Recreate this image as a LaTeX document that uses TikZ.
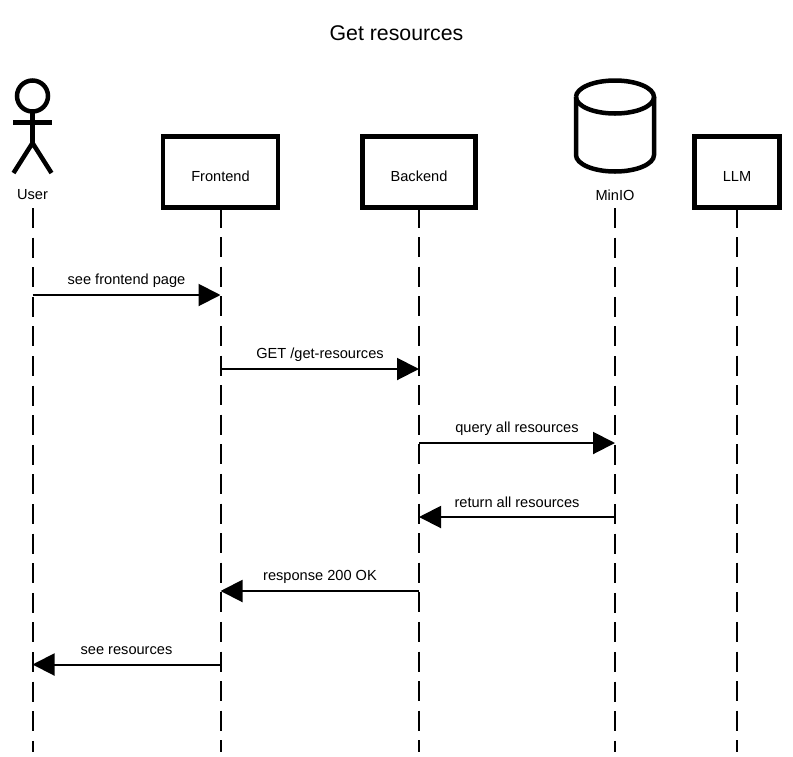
\documentclass[tikz,border=0pt]{standalone}
\usepackage{fontspec}
\setmainfont{Liberation Sans}
\usetikzlibrary{arrows.meta}
\tikzset{
  lifebox/.style={draw,line width=4.5pt,outer sep=0pt,minimum height=71pt},
  lifeline/.style={line width=2pt,dash pattern=on 20pt off 9.6pt},
  msg/.style={line width=2pt,-{Triangle[length=22pt,width=22pt]}},
  msglabel/.style={font=\fontsize{14.6}{16}\selectfont,inner sep=0pt},
  figure/.style={line width=4.5pt}
}
\begin{document}
\begin{tikzpicture}[x=1pt,y=-1pt]
\useasboundingbox (0,0) rectangle (793,756);
\node[font=\fontsize{21.3}{24}\selectfont] (title) at (396.5,33) {Get resources};
% actor
\draw[figure] (32.5,96) circle [radius=15.5];
\draw[figure] (32.5,111.5)--(32.5,143);
\draw[figure] (13,122.5)--(51.5,122.5);
\draw[figure] (13.5,173)--(32.5,143)--(51.5,173);
\node[msglabel] (user) at (32.5,195) {User};
% cylinder
\draw[figure] (576,97) arc [x radius=39,y radius=16.5,start angle=180,end angle=-180];
\draw[figure] (576,97)--(576,155) arc [x radius=39,y radius=16.5,start angle=180,end angle=0]--(654,97);
\node[msglabel] (minio) at (615,195) {MinIO};
% boxes
\node[lifebox,minimum width=115pt,label={[msglabel,yshift=-4.5pt]center:Frontend}] (frontend) at (220.5,172) {};
\node[lifebox,minimum width=113pt,label={[msglabel,yshift=-4.5pt]center:Backend}] (backend) at (419,172) {};
\node[lifebox,minimum width=85pt,label={[msglabel,yshift=-4.5pt]center:LLM}] (llm) at (737,172) {};
% lifelines
\coordinate (usertop) at (32.5,208);
\coordinate (miniotop) at (615,208);
\coordinate (userend) at (32.5,752);
\coordinate (frontendend) at (220.5,752);
\coordinate (backendend) at (419,752);
\coordinate (minioend) at (615,752);
\coordinate (llmend) at (737,752);
\draw[lifeline] (usertop)--(userend);
\draw[lifeline] (frontend.south)--(frontendend);
\draw[lifeline] (backend.south)--(backendend);
\draw[lifeline] (miniotop)--(minioend);
\draw[lifeline] (llm.south)--(llmend);
% messages
\coordinate (m1a) at (32.5,295);
\coordinate (m1b) at (220.5,295);
\coordinate (m2a) at (220.5,369);
\coordinate (m2b) at (419,369);
\coordinate (m3a) at (419,443);
\coordinate (m3b) at (615,443);
\coordinate (m4a) at (615,517);
\coordinate (m4b) at (419,517);
\coordinate (m5a) at (419,591);
\coordinate (m5b) at (220.5,591);
\coordinate (m6a) at (220.5,664.5);
\coordinate (m6b) at (32.5,664.5);
\draw[msg] (m1a)--(m1b);
\draw[msg] (m2a)--(m2b);
\draw[msg] (m3a)--(m3b);
\draw[msg] (m4a)--(m4b);
\draw[msg] (m5a)--(m5b);
\draw[msg] (m6a)--(m6b);
\node[msglabel] (l1) at (126.5,281) {see frontend page};
\node[msglabel] (l2) at (320,355) {GET /get-resources};
\node[msglabel] (l3) at (517,429) {query all resources};
\node[msglabel] (l4) at (517,502) {return all resources};
\node[msglabel] (l5) at (320,577) {response 200 OK};
\node[msglabel] (l6) at (126.5,651) {see resources};
\end{tikzpicture}
\end{document}
